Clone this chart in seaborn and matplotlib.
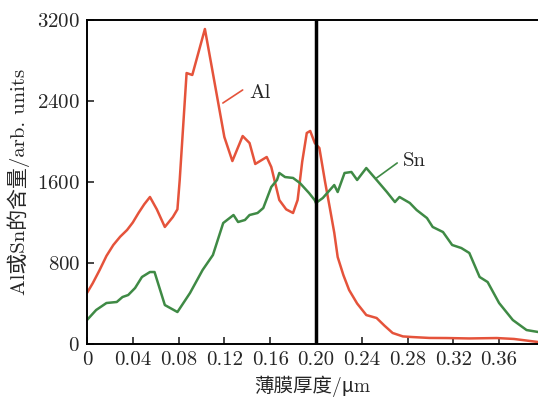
import numpy as np
import pandas as pd
import matplotlib
matplotlib.use("Agg")
import matplotlib.pyplot as plt
import seaborn as sns

sns.set_style("ticks")
plt.rcParams["font.family"] = ["cmr10", "Noto Sans CJK SC", "DejaVu Sans"]
plt.rcParams["axes.formatter.use_mathtext"] = True
plt.rcParams["axes.unicode_minus"] = False

# Al profile (thickness in um, content in arb. units)
al_x = [0.000, 0.005, 0.011, 0.017, 0.023, 0.029, 0.035, 0.040, 0.045, 0.050,
        0.055, 0.061, 0.068, 0.075, 0.079, 0.081, 0.087, 0.092, 0.103, 0.109,
        0.120, 0.127, 0.136, 0.142, 0.147, 0.157, 0.161, 0.168, 0.174, 0.180,
        0.184, 0.188, 0.192, 0.195, 0.199, 0.203, 0.208, 0.212, 0.216, 0.219,
        0.224, 0.229, 0.236, 0.244, 0.253, 0.260, 0.267, 0.276, 0.284, 0.299,
        0.314, 0.334, 0.358, 0.373, 0.394]
al_y = [504, 600, 730, 870, 978, 1060, 1126, 1200, 1294, 1380,
        1452, 1330, 1156, 1254, 1330, 1620, 2676, 2657, 3111, 2736,
        2044, 1807, 2054, 1985, 1778, 1847, 1748, 1422, 1330, 1294,
        1422, 1800, 2084, 2104, 1985, 1936, 1600, 1353, 1100, 859,
        680, 533, 400, 286, 257, 180, 109, 75, 69, 60,
        59, 55, 59, 50, 20]

# Sn profile
sn_x = [0.000, 0.008, 0.017, 0.026, 0.031, 0.036, 0.042, 0.048, 0.055, 0.059,
        0.068, 0.079, 0.090, 0.101, 0.110, 0.119, 0.128, 0.132, 0.138, 0.142,
        0.149, 0.154, 0.161, 0.166, 0.168, 0.173, 0.180, 0.186, 0.194, 0.199,
        0.200, 0.206, 0.216, 0.219, 0.225, 0.231, 0.236, 0.244, 0.253, 0.262,
        0.269, 0.273, 0.282, 0.288, 0.297, 0.302, 0.311, 0.319, 0.327, 0.334,
        0.343, 0.350, 0.360, 0.372, 0.384, 0.394]
sn_y = [237, 336, 405, 415, 464, 484, 553, 662, 711, 711,
        385, 316, 504, 731, 879, 1195, 1274, 1205, 1225, 1274,
        1294, 1343, 1551, 1620, 1689, 1649, 1640, 1590, 1491, 1420,
        1393, 1442, 1570, 1501, 1689, 1699, 1620, 1738, 1620, 1501,
        1402, 1452, 1393, 1323, 1244, 1156, 1106, 978, 948, 899,
        662, 612, 405, 237, 138, 119]

x_ticks = [0, 0.04, 0.08, 0.12, 0.16, 0.20, 0.24, 0.28, 0.32, 0.36]
x_tick_labels = ["0", "0.04", "0.08", "0.12", "0.16", "0.20", "0.24", "0.28", "0.32", "0.36"]
y_ticks = [0, 800, 1600, 2400, 3200]
marker_x = 0.20

AL_COLOR = "#e5533b"
SN_COLOR = "#3f8a45"

df = pd.concat([
    pd.DataFrame({"thickness": al_x, "content": al_y, "element": "Al"}),
    pd.DataFrame({"thickness": sn_x, "content": sn_y, "element": "Sn"}),
])

fig = plt.figure(figsize=(5.38, 3.99), dpi=100)
ax = fig.add_axes([0.1617, 0.1378, 0.8383, 0.8121])

sns.lineplot(data=df, x="thickness", y="content", hue="element",
             palette={"Al": AL_COLOR, "Sn": SN_COLOR}, linewidth=1.8,
             sort=False, legend=False, ax=ax)

ax.axvline(marker_x, color="black", linewidth=2.5)

ax.set_xlim(0, 0.394)
ax.set_ylim(0, 3200)
ax.set_xticks(x_ticks)
ax.set_xticklabels(x_tick_labels)
ax.set_yticks(y_ticks)
ax.tick_params(direction="in", length=5, width=1.2, labelsize=15,
               top=False, right=False)
ax.tick_params(axis="x", pad=5)
ax.tick_params(axis="y", pad=5)

for side in ["left", "bottom", "top"]:
    ax.spines[side].set_linewidth(1.4)
    ax.spines[side].set_color("black")
ax.spines["right"].set_visible(False)

ax.set_xlabel("薄膜厚度/μm", fontsize=14, labelpad=5)
ax.set_ylabel("Al或Sn的含量/arb. units", fontsize=15, labelpad=5)

# inline labels with leader lines
ax.plot([0.1187, 0.136], [2380, 2509], color=AL_COLOR, lw=1.2)
ax.text(0.142, 2480, "Al", fontsize=15, va="center", ha="left")
ax.plot([0.253, 0.271], [1640, 1788], color=SN_COLOR, lw=1.2)
ax.text(0.2757, 1810, "Sn", fontsize=15, va="center", ha="left")

fig.savefig("out.png", dpi=100)
